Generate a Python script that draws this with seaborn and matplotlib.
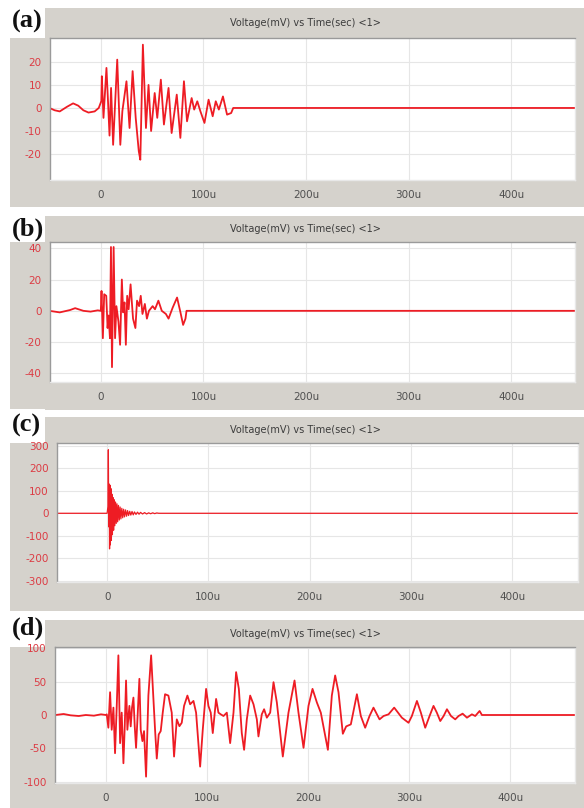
import pandas as pd
import matplotlib
matplotlib.use('Agg')
from matplotlib import pyplot as plt
from matplotlib.patches import Rectangle
import seaborn as sns

sns.set_style('white')
plt.rcParams['font.family'] = ['DejaVu Sans']
plt.rcParams['axes.unicode_minus'] = False

# waveform vertices (time in us, voltage in mV)
a_t = [-50, -45, -40, -33, -27, -22, -17, -12, -6, -2, 0.5, 1, 2.6, 5.5, 7, 8.5, 10, 12, 16, 19,
       21, 25, 28, 31, 34, 37, 38.5, 41, 44, 46.5, 49, 52.5, 55, 58.5, 61.5, 66, 69, 74, 77.5, 81,
       84, 88.5, 91, 94, 97, 101, 105, 109, 112, 115, 119, 123, 127, 129, 462]
a_v = [0, -1, -1.5, 0.5, 2, 1, -1, -2, -1.5, 0, 3, 13.8, -4.3, 17.4, 3, -12, 8.7, -16, 21, -16,
       -1.4, 11.6, -8.7, 16, -4.3, -18.8, -22.5, 27.5, -8.7, 10, -10, 6.5, -4.3, 12.3, -7.2, 8.7, -10.9, 5.8, -13, 11.6,
       -5.8, 4.3, -0.7, 2.9, -1.4, -6.5, 3.6, -3.6, 2.9, -0.7, 5, -2.9, -2.2, 0, 0]

b_t = [-50, -40, -30, -25, -17, -10, -3, 0, 0.7, 2, 3.3, 5.3, 6.6, 7.6, 8.9, 9.9, 10.9, 12.5,
       13.9, 15.2, 17.2, 18.8, 20.5, 21.8, 23.1, 24.4, 25.7, 27.1, 29, 31.4, 33.7, 35.3, 37.3, 38.9,
       40.6, 42.9, 44.9, 46.9, 50.5, 52.8, 56.1, 59.4, 63.4, 66, 70, 74.3, 77.6, 80.2, 82.5, 83.5, 462]
b_v = [0, -1, 0.5, 1.7, 0, -0.5, 0.3, 0, 12.7, -17.5, 10.6, 9.6, -11, -3, -17.5, 40.8, -36, 40.8,
       -17.5, 3, -7, -21.7, 20, -1, 5.4, -21.7, 9.6, 1, 16.9, -5, -11, 6.5, 3, 9.6,
       -2, 4.4, -5, 0, 3, 1, 6.5, 0, -2, -5, 2, 8.5, -1, -9, -5, 0, 0]

c_t = [-50, 0, 0.8, 1.2, 1.6, 2.0, 2.4, 2.8, 3.2, 3.7, 4.2, 4.7, 5.2, 5.8, 6.4, 7.0, 7.6, 8.3, 9.0, 9.7,
       10.4, 11.2, 12.0, 12.8, 13.6, 14.5, 15.4, 16.3, 17.2, 18.2, 19.2, 20.2, 21.2, 22.3, 23.4, 24.6,
       25.8, 27, 28.5, 30, 31.5, 33, 35, 37, 39, 41, 43, 45, 47, 49, 51, 466]
c_v = [0, 0, 30, 282, -60, 130, -158, 125, -140, 110, -120, 85, -95, 70, -75, 60, -55, 50, -45, 42,
       -38, 35, -30, 28, -25, 22, -20, 18, -16, 15, -13, 12, -10, 9, -8, 8,
       -7, 6, -5, 5, -4, 4, -3, 3, -3, 2, -2, 2, -1.5, 1.5, 0, 0]

d_t = [-50, -42, -35, -27, -20, -12, -5, 0, 0.7, 2.3, 4.0, 5.6, 7.3, 8.9, 10.6, 12.2, 13.9, 15.5,
       17.2, 18.5, 19.8, 21.1, 23.1, 24.4, 25.7, 27.1, 28.4, 29.7, 31.4, 33, 34.3, 36, 37.6, 39.6,
       41.9, 44.6, 46.9, 48.5, 50.2, 52.1, 54.1, 56.1, 58.4, 61.7, 65, 67.3, 70, 72.6, 74.9, 77.2,
       80.5, 83.2, 86.5, 89.1, 93.1, 95.7, 99, 101.3, 103.6, 105.6, 108.9, 111.2, 113.5, 116.2,
       119.5, 122.8, 126.1, 128.7, 131.4, 134.3, 136.6, 139.3, 142.6, 145.9, 149.2, 150.8, 154.1,
       156.4, 159.1, 162.4, 165.7, 169, 171.6, 174.9, 180.5, 186.5, 190.4, 195.4, 200.3, 204.3,
       208.6, 212.5, 219.5, 223.4, 226.7, 230, 234.3, 237.6, 242.2, 248.2, 252.1, 256.4, 260.7,
       264.6, 270.6, 274.6, 279.5, 285.1, 292.7, 299.3, 302.6, 307.6, 311.5, 315.8, 320.1, 324,
       327.3, 330.7, 334, 337.3, 341.3, 345.5, 348.8, 352.8, 357.1, 362, 365.3, 369.6, 371.9, 464]
d_v = [0, 1.5, -0.5, -1.5, 0, -1, 1, 0, 1, -19, 34, -22, 11, -57, 14, 89, -42, 3.5,
       -72, -17, 51.5, -22, 13.6, -17, 11, 26, -17, -49, 3.5, 54, -22, -39, -24, -92,
       29, 89, 24, -22, -65, -29, -24, 3.5, 31, 29, 3.5, -62, -6.5, -16.7, -11.6, 13.6,
       29, 16, 21, 3.5, -77, -22, 39, 13.6, 3.5, -27, 24, 3.5, 1, -1.5,
       3.5, -42, 3.5, 64, 39, -27, -52, -6.5, 29, 16, -6.5, -32, 1,
       8.6, -4, 3.5, 49, 18.7, -16.7, -62, 3.5, 51.5, 3.5, -49, 13.6, 39,
       18.7, 3.5, -52, 29, 59, 34, -28, -17, -14, 31, -1.5, -19, -1.5,
       11, -6.5, -1.5, 1, 11, -4, -11.6, -1.5, 21, 3.5, -19, -1.5, 13.6,
       3.5, -9, -1.5, 8.6, -1.5, -6.5, -1.5, 2, -4, 1, -1.5, 6, 0, 0]

labels = ['(a)', '(b)', '(c)', '(d)']
y_ticks = [[-20, -10, 0, 10, 20], [-40, -20, 0, 20, 40],
           [-300, -200, -100, 0, 100, 200, 300], [-100, -50, 0, 50, 100]]
y_lims = [(-31.3, 30.4), (-45.5, 44), (-305, 312), (-101.5, 101.5)]
x_lims = [(-49.5, 462), (-49.5, 462), (-49.5, 465), (-50.5, 464)]
x_ticks = [0, 100, 200, 300, 400]
x_ticklabels = ['0', '100u', '200u', '300u', '400u']
title = 'Voltage(mV) vs Time(sec) <1>'

# layout in pixels (top-left origin): frame, plot area, title y, label y
frames = [(10, 8, 584, 207), (10, 216, 584, 410), (10, 417, 584, 611), (10, 620, 584, 808)]
plots = [(50, 38, 575, 180), (50, 242, 575, 382), (57, 443, 578, 582), (55, 647, 575, 783)]
title_y = [23, 229, 430, 634]
label_y = [21, 229, 425, 628]

W, H = 584, 808
GRAY = '#d5d2cc'
RED = '#ee1c24'
LABEL_RED = '#dc3c44'


def fig_rect(x0, y0, x1, y1):
    return [x0 / W, 1 - y1 / H, (x1 - x0) / W, (y1 - y0) / H]


fig = plt.figure(figsize=(W / 100, H / 100), dpi=100)
fig.patch.set_facecolor('white')

series = [(a_t, a_v), (b_t, b_v), (c_t, c_v), (d_t, d_v)]

for i, (t, v) in enumerate(series):
    fx0, fy0, fx1, fy1 = frames[i]
    r = fig_rect(fx0, fy0, fx1, fy1)
    fig.patches.append(Rectangle((r[0], r[1]), r[2], r[3], transform=fig.transFigure,
                                 facecolor=GRAY, edgecolor='none', zorder=-2))
    # white corner behind the panel letter
    px0, py0, px1, py1 = plots[i]
    r = fig_rect(0, fy0 - 8, 45, py0)
    fig.patches.append(Rectangle((r[0], r[1]), r[2], r[3], transform=fig.transFigure,
                                 facecolor='white', edgecolor='none', zorder=-1))

    ax = fig.add_axes(fig_rect(px0, py0, px1, py1))
    ax.set_facecolor('white')
    df = pd.DataFrame({'time': t, 'voltage': v})
    lw = 0.9 if i == 2 else 1.3
    sns.lineplot(data=df, x='time', y='voltage', ax=ax, color=RED, lw=lw,
                 sort=False, estimator=None)

    ax.set_xlim(*x_lims[i])
    ax.set_ylim(*y_lims[i])
    ax.set_xticks(x_ticks)
    ax.set_xticklabels(x_ticklabels)
    ax.set_yticks(y_ticks[i])
    ax.set_xlabel('')
    ax.set_ylabel('')
    ax.grid(True, color='#e6e6e6', lw=0.8)
    ax.set_axisbelow(True)
    for side, sp in ax.spines.items():
        sp.set_color('#9a9a9a' if side in ('left', 'top') else '#e8e8e8')
        sp.set_linewidth(1.0)
    ax.tick_params(axis='y', direction='out', length=5, width=1, color='#707070',
                   labelcolor=LABEL_RED, labelsize=7.5, pad=1)
    ax.tick_params(axis='x', direction='out', length=5, width=1, color='#707070',
                   labelcolor='#505050', labelsize=7.5, pad=2)

    fig.text(305 / W, 1 - title_y[i] / H, title, ha='center', va='center',
             fontsize=7, color='#3c3c3c')
    fig.text(12 / W, 1 - label_y[i] / H, labels[i], ha='left', va='center',
             fontsize=19, fontweight='bold', family=['Liberation Serif', 'DejaVu Serif'],
             color='#111111')

fig.savefig('out.png', dpi=100)
